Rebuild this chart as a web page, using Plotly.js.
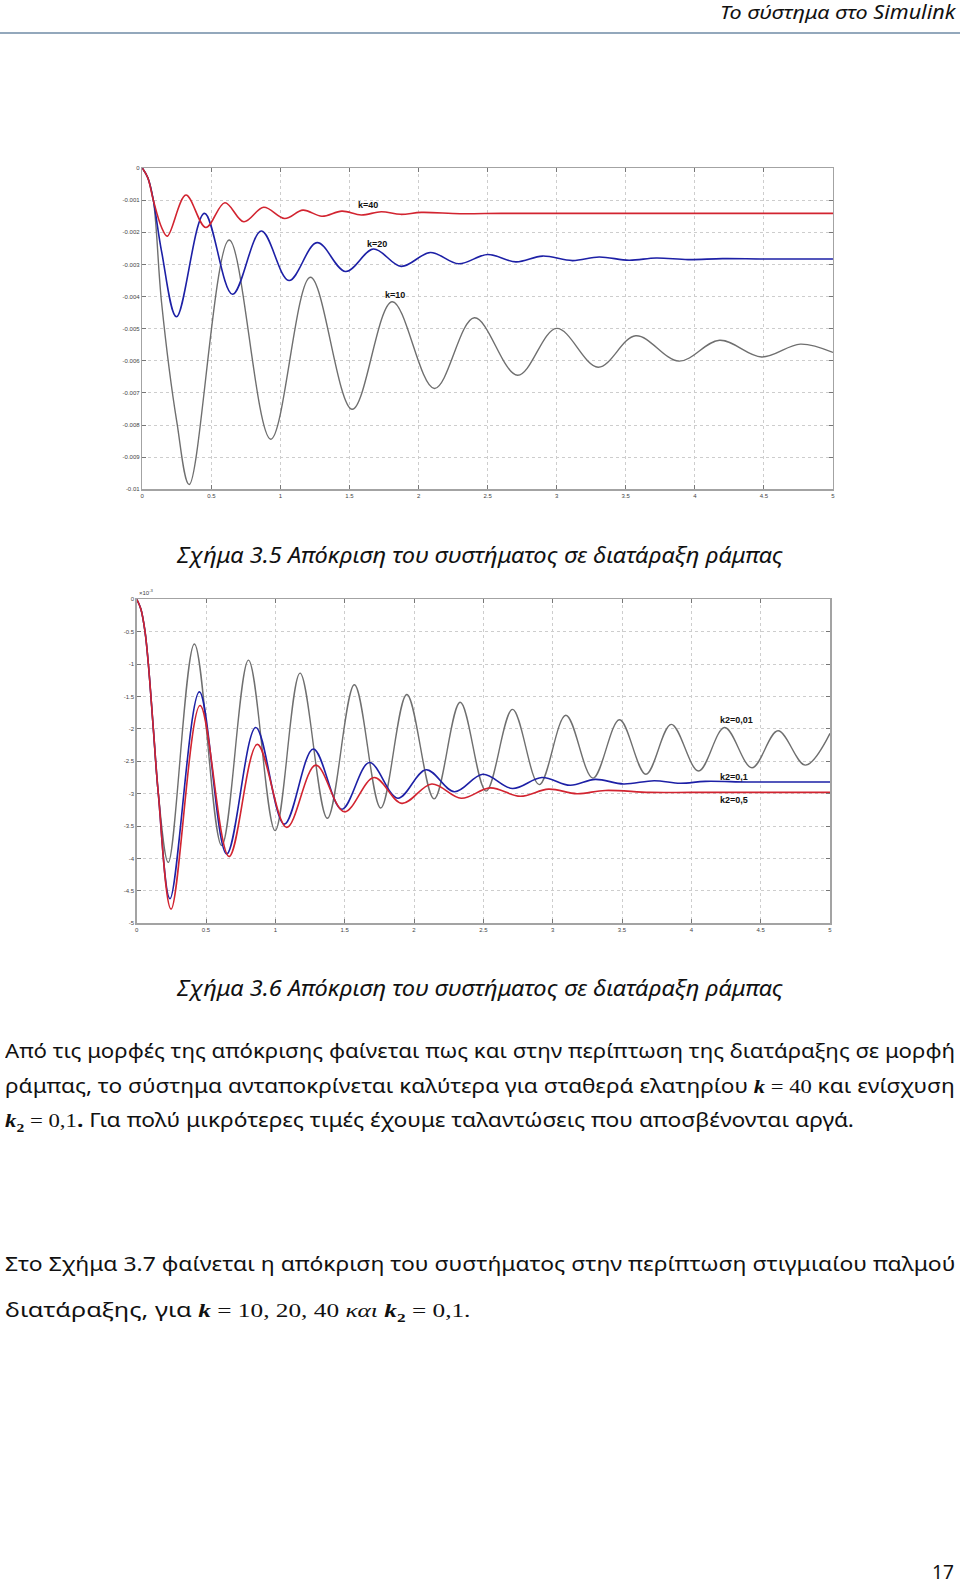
<!DOCTYPE html>
<html><head><meta charset="utf-8">
<script src="https://cdn.plot.ly/plotly-3.0.1.min.js"></script>
<style>
html,body{margin:0;padding:0;background:#fff;width:960px;height:1584px;overflow:hidden}
#plot{position:absolute;left:0;top:0;width:960px;height:1584px}
.t{position:absolute;white-space:nowrap;font-family:"Noto Sans",sans-serif;color:#111;transform-origin:0 50%;line-height:1.25}
.m{font-family:"Liberation Serif",serif}
.hl{position:absolute;left:0;top:32px;width:960px;height:2px;background:#93a8bc}
</style></head><body>
<div id="plot"></div>
<div class="hl"></div>
<div class="t fit" data-l="720" data-r="955" data-c="13" style="font-size:19px;font-style:italic">Το σύστημα στο Simulink</div>
<div class="t fit" data-l="177" data-r="783" data-c="555" style="font-size:21px;font-style:italic">Σχήμα 3.5 Απόκριση του συστήματος σε διατάραξη ράμπας</div>
<div class="t fit" data-l="177" data-r="783" data-c="988" style="font-size:21px;font-style:italic">Σχήμα 3.6 Απόκριση του συστήματος σε διατάραξη ράμπας</div>
<div class="t fit" data-l="5" data-r="955" data-c="1052" style="font-size:19px">Από τις μορφές της απόκρισης φαίνεται πως και στην περίπτωση της διατάραξης σε μορφή</div>
<div class="t fit" data-l="5" data-r="955" data-c="1087" style="font-size:19px">ράμπας, το σύστημα ανταποκρίνεται καλύτερα για σταθερά ελατηρίου <span class="m"><b><i>k</i></b> = 40</span> και ενίσχυση</div>
<div class="t fit" data-l="5" data-r="854" data-c="1122" style="font-size:19px"><span class="m"><b><i>k</i><sub style="font-size:13px">2</sub></b> = 0,1</span><b>.</b> Για πολύ μικρότερες τιμές έχουμε ταλαντώσεις που αποσβένονται αργά.</div>
<div class="t fit" data-l="5" data-r="955" data-c="1265" style="font-size:19px">Στο Σχήμα 3.7 φαίνεται η απόκριση του συστήματος στην περίπτωση στιγμιαίου παλμού</div>
<div class="t fit" data-l="5" data-r="470" data-c="1312" style="font-size:19px">διατάραξης, για <span class="m"><b><i>k</i></b> = 10, 20, 40 <i>και</i> <b><i>k</i><sub style="font-size:13px">2</sub></b> = 0,1.</span></div>
<div class="t fit" data-l="932" data-r="954" data-c="1572" style="font-size:20px;line-height:1">17</div>
<script>
// ---------- Figure 3.5 (ramp disturbance, varying k) ----------
const xTickVals = [0, 0.5, 1, 1.5, 2, 2.5, 3, 3.5, 4, 4.5, 5];
const xTickText = ["0", "0.5", "1", "1.5", "2", "2.5", "3", "3.5", "4", "4.5", "5"];
const y1TickVals = [0, -0.001, -0.002, -0.003, -0.004, -0.005, -0.006, -0.007, -0.008, -0.009, -0.01];
const y1TickText = ["0", "-0.001", "-0.002", "-0.003", "-0.004", "-0.005", "-0.006", "-0.007", "-0.008", "-0.009", "-0.01"];

const k40_t = [0, 0.04, 0.08, 0.14, 0.181, 0.316, 0.46, 0.598, 0.735, 0.879, 1.031, 1.163, 1.30, 1.445, 1.585, 1.73, 1.87, 2.02, 2.3, 2.6, 3.0, 3.5, 4.0, 4.5, 5.0];
const k40_y = [0, -0.0003, -0.0010, -0.00185, -0.00212, -0.00084, -0.00185, -0.00108, -0.00167, -0.00122, -0.00157, -0.00131, -0.00150, -0.00134, -0.00146, -0.00136, -0.00144, -0.00138, -0.00142, -0.00141, -0.00141, -0.00141, -0.00141, -0.00141, -0.00141];

const k20_t = [0, 0.04, 0.08, 0.14, 0.248, 0.45, 0.653, 0.862, 1.062, 1.265, 1.472, 1.674, 1.874, 2.086, 2.29, 2.50, 2.705, 2.897, 3.114, 3.307, 3.524, 3.72, 3.95, 4.2, 4.5, 5.0];
const k20_y = [0, -0.0003, -0.0010, -0.0026, -0.00463, -0.00141, -0.00393, -0.00196, -0.00350, -0.00232, -0.00322, -0.00252, -0.00306, -0.00263, -0.00298, -0.00269, -0.00292, -0.00274, -0.00288, -0.00277, -0.00287, -0.00280, -0.00285, -0.00282, -0.00283, -0.00283];

const k10_t = [0, 0.04, 0.08, 0.14, 0.25, 0.340, 0.629, 0.930, 1.217, 1.520, 1.809, 2.115, 2.404, 2.717, 2.999, 3.30, 3.572, 3.885, 4.179, 4.483, 4.764, 5.0];
const k10_y = [0, -0.0003, -0.0010, -0.0042, -0.0079, -0.00985, -0.00224, -0.00844, -0.00340, -0.00751, -0.00416, -0.00686, -0.00466, -0.00645, -0.00499, -0.00620, -0.00522, -0.00601, -0.00536, -0.00588, -0.00548, -0.00574];

// ---------- Figure 3.6 (ramp disturbance, varying k2), y in units of 1e-3 ----------
const y2TickVals = [0, -0.5, -1, -1.5, -2, -2.5, -3, -3.5, -4, -4.5, -5];
const y2TickText = ["0", "-0.5", "-1", "-1.5", "-2", "-2.5", "-3", "-3.5", "-4", "-4.5", "-5"];

const k2_001_t = [0, 0.03, 0.06, 0.084, 0.12, 0.156, 0.228, 0.416, 0.613, 0.806, 0.998, 1.178, 1.375, 1.570, 1.760, 1.948, 2.145, 2.333, 2.52, 2.710, 2.903, 3.095, 3.29, 3.482, 3.672, 3.855, 4.052, 4.240, 4.437, 4.625, 4.822, 5.0];
const k2_001_y = [0, -0.15, -0.5, -1.0, -2.0, -3.0, -4.06, -0.69, -3.80, -0.94, -3.57, -1.14, -3.38, -1.32, -3.22, -1.47, -3.08, -1.59, -2.96, -1.70, -2.86, -1.79, -2.76, -1.86, -2.70, -1.93, -2.65, -1.98, -2.60, -2.03, -2.56, -2.07];

const k2_01_t = [0, 0.03, 0.06, 0.084, 0.12, 0.156, 0.240, 0.452, 0.649, 0.859, 1.065, 1.274, 1.479, 1.678, 1.883, 2.087, 2.291, 2.496, 2.710, 2.922, 3.126, 3.307, 3.511, 3.732, 3.92, 4.10, 4.4, 4.7, 5.0];
const k2_01_y = [0, -0.15, -0.5, -1.0, -2.0, -3.0, -4.62, -1.43, -3.93, -1.98, -3.47, -2.31, -3.24, -2.52, -3.07, -2.63, -2.97, -2.70, -2.92, -2.75, -2.87, -2.78, -2.85, -2.80, -2.84, -2.81, -2.82, -2.82, -2.82];

const k2_05_t = [0, 0.03, 0.06, 0.084, 0.12, 0.156, 0.248, 0.457, 0.666, 0.870, 1.082, 1.291, 1.498, 1.712, 1.912, 2.128, 2.34, 2.549, 2.766, 2.97, 3.175, 3.379, 3.7, 4.0, 4.5, 5.0];
const k2_05_y = [0, -0.15, -0.5, -1.0, -2.0, -3.0, -4.78, -1.64, -3.97, -2.24, -3.52, -2.56, -3.28, -2.75, -3.15, -2.85, -3.07, -2.91, -3.04, -2.93, -3.00, -2.95, -2.98, -2.98, -2.98, -2.98];

const GREY = "#6f6f6f", BLUE = "#1d20a6", RED = "#d22430";
function tr(x, y, color, w, xa, ya) {
  return {x: x, y: y, type: "scatter", mode: "lines", xaxis: xa, yaxis: ya,
          line: {color: color, width: w, shape: "spline", smoothing: 1}, hoverinfo: "skip"};
}
const data = [
  tr(k10_t, k10_y, GREY, 1.4, "x", "y"),
  tr(k20_t, k20_y, BLUE, 1.6, "x", "y"),
  tr(k40_t, k40_y, RED, 1.6, "x", "y"),
  tr(k2_001_t, k2_001_y, GREY, 1.4, "x2", "y2"),
  tr(k2_01_t, k2_01_y, BLUE, 1.6, "x2", "y2"),
  tr(k2_05_t, k2_05_y, RED, 1.6, "x2", "y2")
];
const tickFont = {family: "Liberation Sans, Arial, sans-serif", size: 6, color: "#444"};
function ax(extra) {
  return Object.assign({showline: true, mirror: "ticks", linecolor: "#a3a3a3", linewidth: 1.5,
    ticks: "inside", ticklen: 4, tickcolor: "#777", tickwidth: 1,
    showgrid: true, gridcolor: "#cdcdcd", griddash: "dot", gridwidth: 1,
    zeroline: false, tickfont: tickFont, tickmode: "array", fixedrange: true}, extra);
}
const annFont = {family: "Liberation Sans, Arial, sans-serif", size: 9, color: "#111"};
function lab(text, x, y, xr, yr) {
  return {text: "<b>" + text + "</b>", x: x, y: y, xref: xr, yref: yr, showarrow: false, xanchor: "left", yanchor: "middle", font: annFont};
}
const layout = {
  width: 960, height: 1584, margin: {l: 0, r: 0, t: 0, b: 0},
  paper_bgcolor: "rgba(0,0,0,0)", plot_bgcolor: "#fff", showlegend: false,
  xaxis: ax({domain: [0.1482, 0.8677], range: [0, 5], tickvals: xTickVals, ticktext: xTickText, anchor: "y"}),
  yaxis: ax({domain: [0.6911, 0.8939], range: [-0.01, 0], tickvals: y1TickVals, ticktext: y1TickText, anchor: "x"}),
  xaxis2: ax({domain: [0.1424, 0.8646], range: [0, 5], tickvals: xTickVals, ticktext: xTickText, anchor: "y2"}),
  yaxis2: ax({domain: [0.4171, 0.6217], range: [-5, 0], tickvals: y2TickVals, ticktext: y2TickText, anchor: "x2"}),
  annotations: [
    lab("k=40", 1.544, -0.00115, "x", "y"),
    lab("k=20", 1.609, -0.00235, "x", "y"),
    lab("k=10", 1.746, -0.00396, "x", "y"),
    lab("k2=0,01", 4.19, -1.86, "x2", "y2"),
    lab("k2=0,1", 4.19, -2.74, "x2", "y2"),
    lab("k2=0,5", 4.19, -3.10, "x2", "y2"),
    {text: "×10<sup>-3</sup>", x: 0, y: 0, xref: "x2", yref: "y2", xanchor: "left", yanchor: "bottom", yshift: 1, showarrow: false, font: {family: "Liberation Sans, Arial, sans-serif", size: 6, color: "#444"}}
  ]
};
Plotly.newPlot("plot", data, layout, {staticPlot: true, displayModeBar: false});

// fit text lines to their measured extents
document.querySelectorAll(".fit").forEach(function (el) {
  const l = +el.dataset.l, r = +el.dataset.r, c = +el.dataset.c;
  const w = el.scrollWidth, h = el.offsetHeight;
  el.style.left = l + "px";
  el.style.top = (c - h / 2) + "px";
  el.style.transform = "scaleX(" + ((r - l) / w) + ")";
});
</script>
</body></html>
